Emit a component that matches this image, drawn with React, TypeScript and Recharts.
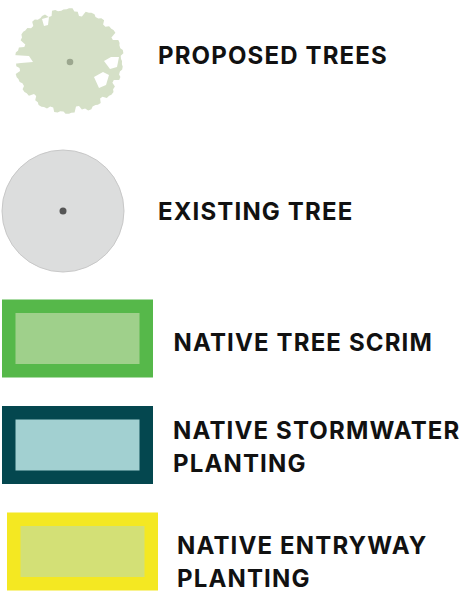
import React from "react";
import { ScatterChart, Scatter, XAxis, YAxis } from "recharts";

// Legend content
const labels = [
  ["PROPOSED TREES"],
  ["EXISTING TREE"],
  ["NATIVE TREE SCRIM"],
  ["NATIVE STORMWATER", "PLANTING"],
  ["NATIVE ENTRYWAY", "PLANTING"],
];
const kinds = ["proposed", "existing", "box", "box", "box"];
const outerColors = ["#d5e0c7", "#dcdddd", "#56b84a", "#04474f", "#f4e822"];
const innerColors = ["#9ca78f", "#555555", "#9fd08b", "#a2d0d1", "#d3e076"];

// Layout (pixel space of the 464x593 canvas)
const symbolX = [69, 63, 77.5, 77.5, 82.5];
const symbolY = [61, 211, 338.5, 445, 551.5];
const labelX = [158, 158, 173.5, 173, 177];
const labelY = [64, 220, 351, 439, 554];
const lineGap = 32.5;

const symbols = labels.map((l, i) => ({
  x: symbolX[i],
  y: symbolY[i],
  kind: kinds[i],
  outer: outerColors[i],
  inner: innerColors[i],
}));
const texts = labels.map((l, i) => ({ x: labelX[i], y: labelY[i], lines: l }));

const blobRadii = [
  53, 54, 52, 54, 49, 53, 55, 54, 50, 54, 53, 55, 52, 48, 54, 55, 53, 55, 51, 54,
  55, 53, 49, 54, 55, 52, 54, 55, 50, 53, 55, 54, 52, 47, 53, 55, 54, 51, 55, 53,
  54, 50, 55, 53, 54, 55, 52, 48, 54, 55, 53, 55, 51, 54, 55, 49, 54, 53, 55, 52,
];

const blobPath = (cx: number, cy: number) => {
  const n = blobRadii.length;
  let d = "";
  for (let i = 0; i < n; i++) {
    const a0 = (i / n) * Math.PI * 2;
    const a1 = ((i + 0.6) / n) * Math.PI * 2;
    const r = blobRadii[i];
    for (const a of [a0, a1]) {
      const px = cx + r * Math.cos(a);
      const py = cy + r * 0.96 * Math.sin(a);
      d += (d === "" ? "M" : "L") + px.toFixed(1) + "," + py.toFixed(1);
    }
  }
  return d + "Z";
};

const SymbolShape = (props: any) => {
  const { cx, cy, payload } = props;
  if (payload.kind === "proposed") {
    return (
      <g>
        <path d={blobPath(cx, cy)} fill={payload.outer} />
        <path d={`M${cx + 25},${cy + 16} L${cx + 34},${cy + 11} L${cx + 40},${cy + 14} L${cx + 37},${cy + 24} L${cx + 30},${cy + 27} Z`} fill="#fff" />
        <path d={`M${cx + 35},${cy} L${cx + 42},${cy - 4} L${cx + 50},${cy - 4} L${cx + 48},${cy + 6} L${cx + 41},${cy + 8} Z`} fill="#fff" />
        <path d={`M${cx - 27},${cy - 42} L${cx - 20},${cy - 44} L${cx - 21},${cy - 36} L${cx - 25},${cy - 35} Z`} fill="#fff" />
        <path d={`M${cx - 56},${cy - 6} L${cx - 40},${cy - 5} L${cx - 36},${cy + 1} L${cx - 48},${cy + 2} L${cx - 56},${cy + 3} Z`} fill="#fff" />
        <circle cx={cx + 1} cy={cy + 1} r={3.3} fill={payload.inner} />
      </g>
    );
  }
  if (payload.kind === "existing") {
    return (
      <g>
        <circle cx={cx} cy={cy} r={61} fill={payload.outer} stroke="#c8c8c8" strokeWidth={1} />
        <circle cx={cx} cy={cy} r={3.5} fill={payload.inner} />
      </g>
    );
  }
  const w = 151;
  const h = 78;
  const b = 13.5;
  return (
    <g>
      <rect x={cx - w / 2} y={cy - h / 2} width={w} height={h} fill={payload.outer} />
      <rect x={cx - w / 2 + b} y={cy - h / 2 + b} width={w - 2 * b} height={h - 2 * b} fill={payload.inner} />
    </g>
  );
};

const LabelShape = (props: any) => {
  const { cx, cy, payload } = props;
  return (
    <text
      x={cx}
      y={cy}
      fill="#111111"
      fontFamily="Inter, 'Open Sans', sans-serif"
      fontWeight={700}
      fontSize={24}
      letterSpacing={1.15}
    >
      {payload.lines.map((t: string, i: number) => (
        <tspan key={i} x={cx} y={cy + i * lineGap}>
          {t}
        </tspan>
      ))}
    </text>
  );
};

export default function App() {
  return (
    <div style={{ position: "absolute", left: 0, top: 0, background: "#fff" }}>
      <ScatterChart width={464} height={593} margin={{ top: 0, right: 0, bottom: 0, left: 0 }}>
        <XAxis type="number" dataKey="x" domain={[0, 464]} hide />
        <YAxis type="number" dataKey="y" domain={[0, 593]} reversed hide />
        <Scatter data={symbols} shape={SymbolShape} isAnimationActive={false} />
        <Scatter data={texts} shape={LabelShape} isAnimationActive={false} />
      </ScatterChart>
    </div>
  );
}
